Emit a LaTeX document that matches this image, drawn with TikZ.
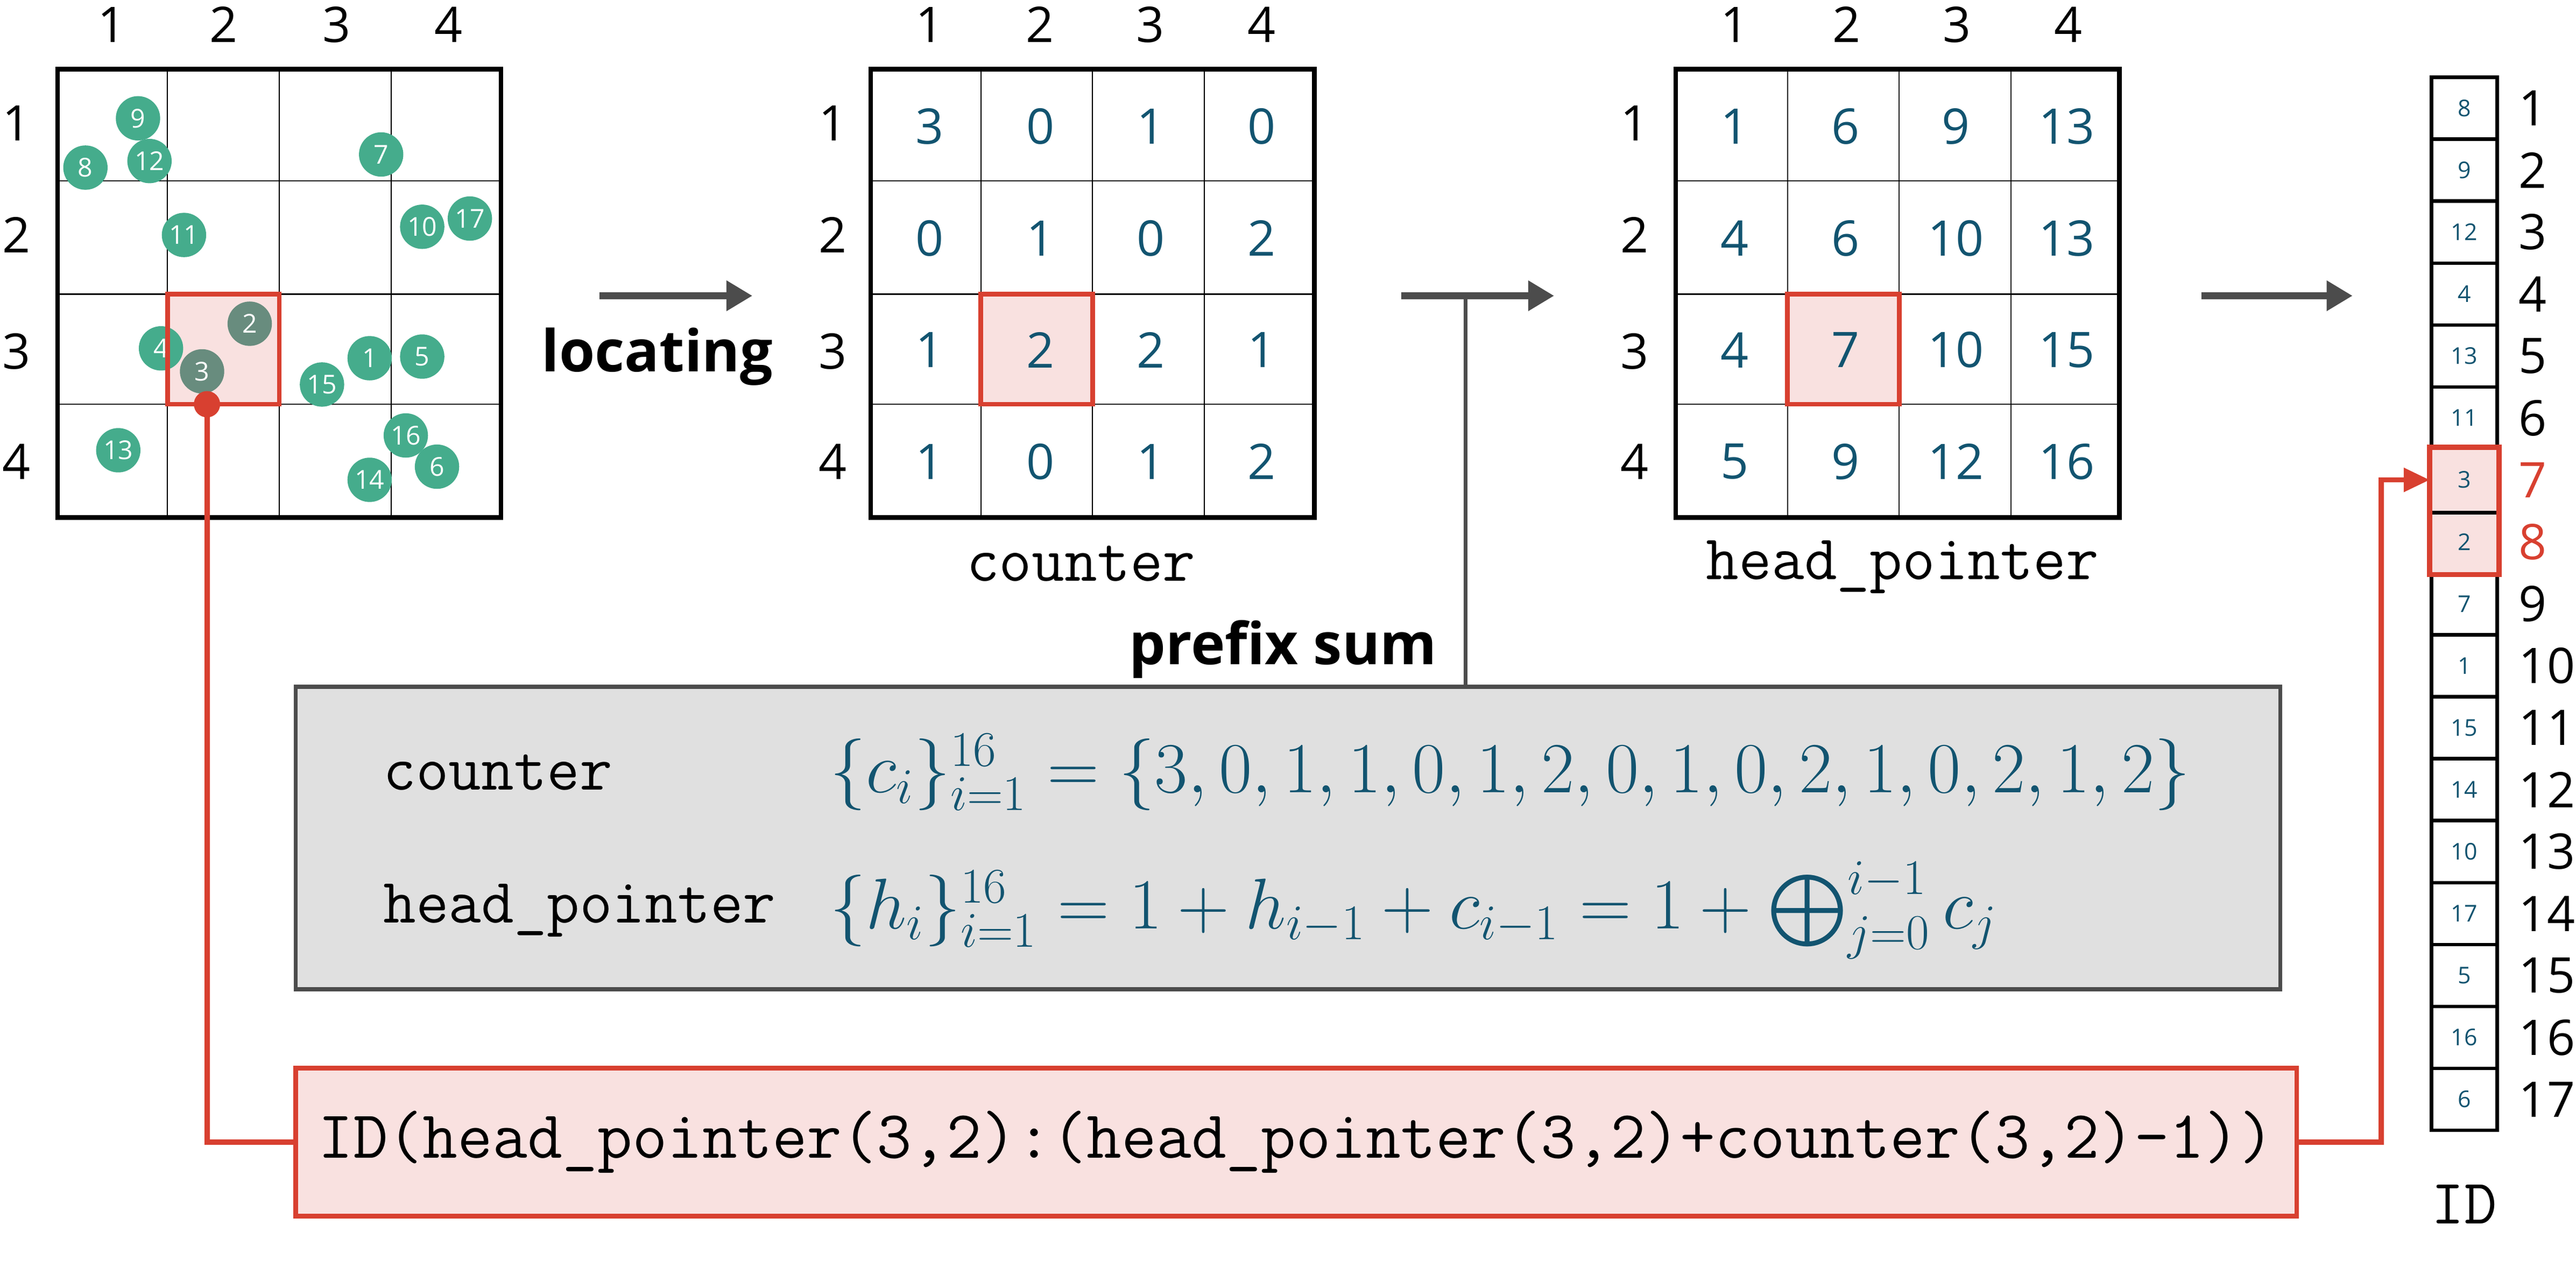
\documentclass[tikz,border=0pt]{standalone}
\usepackage{fontspec}
\setmainfont{Open Sans}
\usepackage{amsmath}
\usetikzlibrary{positioning}
\usetikzlibrary{arrows.meta}
\definecolor{dotgreen}{RGB}{69,172,140}
\definecolor{valblue}{RGB}{18,84,112}
\definecolor{hired}{RGB}{216,64,48}
\definecolor{hipink}{RGB}{249,225,224}

\begin{document}
\begin{tikzpicture}[x=0.02cm, y=-0.02cm,
    lab/.style={font=\fontsize{17}{17}\selectfont},
    val/.style={font=\fontsize{17}{17}\selectfont, text=valblue},
    mono/.style={font=\ttfamily\fontsize{22}{22}\selectfont},
    pt/.style={circle, fill=dotgreen, minimum size=27*0.02cm, inner sep=0pt, text=white, font=\fontsize{9}{9}\selectfont},
    hi/.style={draw=hired, fill=hipink, line width=1.4pt},
    gridbox/.style={draw, line width=1.6pt},
    idcell/.style={draw, line width=1.2pt, minimum width=40*0.02cm, minimum height=37.7*0.02cm, inner sep=0pt, text=valblue, font=\fontsize{8}{8}\selectfont},
    arr/.style={-{Triangle[length=9pt,width=10pt]}, line width=2.4pt, black!70},
    redarr/.style={-{Triangle[length=9pt,width=8pt]}, line width=1.8pt, hired},
    ]
    \useasboundingbox (0,0) rectangle (1568,771);

    % points grid
    \fill[hipink] (102,179) rectangle (170,246);
    \draw[thin] (35,110)--(305,110) (35,179)--(305,179) (35,246)--(305,246);
    \draw[thin] (102,42)--(102,315) (170,42)--(170,315) (238,42)--(238,315);
    \draw[gridbox] (35,42) rectangle (305,315);
    \node (c1) [lab] at (68,15) {1};
    \node (c2) [lab] at (136,15) {2};
    \node (c3) [lab] at (205,15) {3};
    \node (c4) [lab] at (273,15) {4};
    \node (r1) [lab] at (10,75) {1};
    \node (r2) [lab] at (10,143) {2};
    \node (r3) [lab] at (10,214) {3};
    \node (r4) [lab] at (10,281) {4};
    \foreach \n/\px/\py in {9/84/72, 8/52/102, 12/91/98, 7/232/94, 11/112/143, 10/257/138,
        17/286/133, 4/98/212, 15/196/234, 1/225/218, 5/257/217, 16/247/265, 6/266/284,
        14/225/292, 13/72/274}
      \node (p\n) [pt] at (\px,\py) {\n};
    \node (p2) [pt, fill=dotgreen!60!black!70!hipink] at (152,197) {2};
    \node (p3) [pt, fill=dotgreen!60!black!70!hipink] at (123,226) {3};
    \draw[hi, fill=none, line width=1.6pt] (102,179) rectangle (170,246);
    \fill[hired] (126,246) circle (8);
    \coordinate (dot) at (126,246);

    % counter grid
    \fill[hipink] (597,179) rectangle (665,246);
    \draw[thin] (530,110)--(800,110) (530,179)--(800,179) (530,246)--(800,246);
    \draw[thin] (597,42)--(597,315) (665,42)--(665,315) (733,42)--(733,315);
    \draw[gridbox] (530,42) rectangle (800,315);
    \draw[hi, fill=none, line width=1.6pt] (597,179) rectangle (665,246);
    \foreach \c/\x in {1/566, 2/633, 3/700, 4/768} \node (cc\c) [lab] at (\x,15) {\c};
    \foreach \r/\y in {1/75, 2/143, 3/214, 4/281} \node (cr\r) [lab] at (507,\y) {\r};
    \foreach \v [count=\i from 0] in {3,0,1,0, 0,1,0,2, 1,2,2,1, 1,0,1,2}
      \node (cv\i) [val] at ({566+67.3*mod(\i,4)}, {77+68*int(\i/4)}) {\v};
    \node (counter) [mono] at (658,343) {counter};

    % head_pointer grid
    \fill[hipink] (1088,179) rectangle (1156,246);
    \draw[thin] (1020,110)--(1290,110) (1020,179)--(1290,179) (1020,246)--(1290,246);
    \draw[thin] (1088,42)--(1088,315) (1156,42)--(1156,315) (1224,42)--(1224,315);
    \draw[gridbox] (1020,42) rectangle (1290,315);
    \draw[hi, fill=none, line width=1.6pt] (1088,179) rectangle (1156,246);
    \foreach \c/\x in {1/1056, 2/1124, 3/1191, 4/1259} \node (hc\c) [lab] at (\x,15) {\c};
    \foreach \r/\y in {1/75, 2/143, 3/214, 4/281} \node (hr\r) [lab] at (995,\y) {\r};
    \foreach \v [count=\i from 0] in {1,6,9,13, 4,6,10,13, 4,7,10,15, 5,9,12,16}
      \node (hv\i) [val] at ({1056+67.3*mod(\i,4)}, {77+68*int(\i/4)}) {\v};
    \node (headptr) [mono] at (1158,345) {head\_pointer};

    % arrows
    \coordinate (a1s) at (365,180); \coordinate (a1e) at (458,180);
    \draw[arr] (a1s) -- (a1e);
    \node (locating) [font=\bfseries\fontsize{20}{20}\selectfont] at (400,217) {locating};
    \coordinate (a2s) at (853,180); \coordinate (a2e) at (946,180);
    \draw[arr] (a2s) -- (a2e);
    \coordinate (a3s) at (1340,180); \coordinate (a3e) at (1432,180);
    \draw[arr] (a3s) -- (a3e);
    \coordinate (tee) at (892,180);
    \node (prefix) [font=\bfseries\fontsize{20}{20}\selectfont] at (781,395) {prefix sum};

    % formula box
    \node (formula) [draw=black!70, fill=black!12, line width=1.4pt, minimum width=1208*0.02cm, minimum height=184*0.02cm] at (784,510) {};
    \draw[black!70, line width=1.4pt] (tee) -- (formula.north -| tee);
    \node (lc) [mono, anchor=west, inner sep=0pt] at (233,470) {counter};
    \node (lh) [mono, anchor=west, inner sep=0pt] at (233,554) {head\_pointer};
    \node (fc) [text=valblue, anchor=west, inner sep=0pt, font=\fontsize{23}{23}\selectfont] at (505,470)
      {$\{c_i\}_{i=1}^{16}=\{3,0,1,1,0,1,2,0,1,0,2,1,0,2,1,2\}$};
    \node (fh) [text=valblue, anchor=west, inner sep=0pt, font=\fontsize{23}{23}\selectfont] at (505,554)
      {$\{h_i\}_{i=1}^{16}=1+h_{i-1}+c_{i-1}=1+\bigoplus_{j=0}^{i-1}c_j$};

    % ID query box
    \node (query) [draw=hired, fill=hipink, line width=1.6pt, minimum width=1218*0.02cm, minimum height=90*0.02cm,
      font=\ttfamily\fontsize{23.5}{23.5}\selectfont] at (789,695)
      {ID(head\_pointer(3,2):(head\_pointer(3,2)+counter(3,2)-1))};

    % ID column
    \foreach \v [count=\i] in {8,9,12,4,13,11,3,2,7,1,15,14,10,17,5,16,6}
      \node (id\i) [idcell] at (1500,{47+37.7*(\i-0.5)}) {\v};
    \foreach \i in {1,...,6,9,10,...,17}
      \node (idn\i) [lab, anchor=west] at (1527,{47+37.7*(\i-0.5)}) {\i};
    \node (idn7) [lab, anchor=west, text=hired] at (1527,{47+37.7*6.5}) {7};
    \node (idn8) [lab, anchor=west, text=hired] at (1527,{47+37.7*7.5}) {8};
    \fill[hipink] (id7.north west) rectangle (id8.south east);
    \node [idcell, draw=none] at (id7) {3};
    \node [idcell, draw=none] at (id8) {2};
    \draw[line width=1.2pt] (id7.south west) -- (id7.south east);
    \draw[hired, line width=1.8pt] (id7.north west) rectangle (id8.south east);
    \node (idlab) [mono] at (1500,733) {ID};

    % red connectors
    \draw[hired, line width=1.8pt] (dot) |- (query.west);
    \draw[redarr] (query.east) -- ++(50,0) |- (id7.west);
\end{tikzpicture}
\end{document}
